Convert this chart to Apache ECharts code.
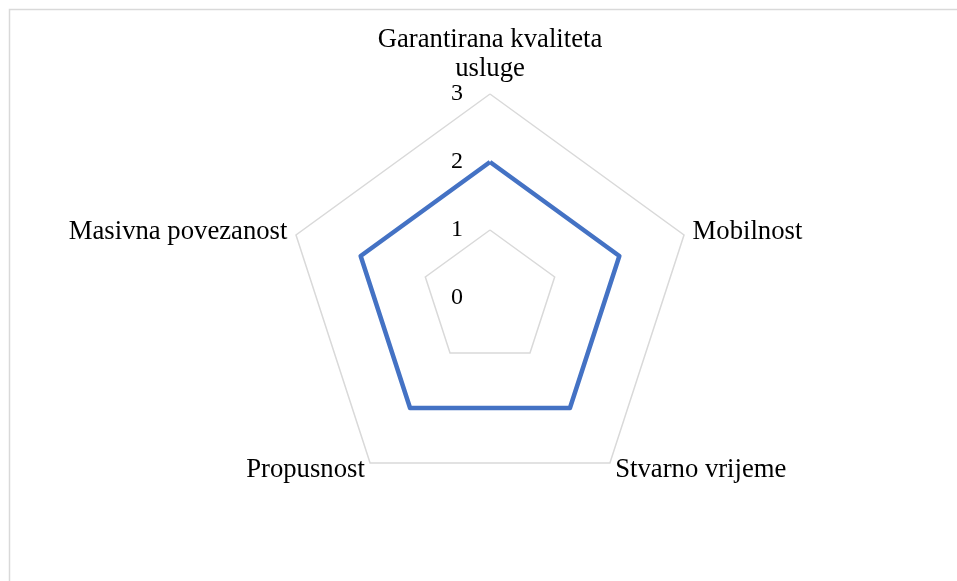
<!DOCTYPE html>
<html><head><meta charset="utf-8">
<script src="https://cdn.jsdelivr.net/npm/echarts@6/dist/echarts.min.js"></script>
<style>html,body{margin:0;padding:0;background:#fff}#c{width:957px;height:581px}</style>
</head><body><div id="c"></div>
<script>
// Categories listed in the chart's clockwise order, starting at the top
const categories = ['Garantirana kvaliteta\nusluge', 'Mobilnost', 'Stvarno vrijeme', 'Propusnost', 'Masivna povezanost'];
const values = [2, 2, 2, 2, 2];
const axisMin = 0, axisMax = 3, axisStep = 1;

// ECharts radar runs counter-clockwise: keep the first item on top, reverse the rest
const order = [0].concat(categories.map((_, i) => i).slice(1).reverse());
const cats = order.map(i => categories[i]);
const vals = order.map(i => values[i]);

const chart = echarts.init(document.getElementById('c'));
const font = '"Liberation Serif", "Times New Roman", serif';
chart.setOption({
  animation: false,
  graphic: [{type: 'rect', shape: {x: 9.5, y: 9.5, width: 1000, height: 1000}, style: {fill: 'none', stroke: '#d9d9d9', lineWidth: 1.5}, silent: true}],
  radar: {
    center: [490, 298],
    radius: 204,
    startAngle: 90,
    shape: 'polygon',
    splitNumber: (axisMax - axisMin) / axisStep,
    nameGap: 9,
    axisName: {
      color: '#000', fontFamily: font, fontSize: 26.7, lineHeight: 29,
      formatter: (name) => {
        const parts = name.split('\n');
        if (parts.length < 2) return name;
        return parts.map((s, i) => '{' + (i === parts.length - 1 ? 'b' : 'a') + '|' + s + '}').join('\n');
      },
      rich: {
        a: {fontFamily: font, fontSize: 26.7, lineHeight: 35, color: '#000'},
        b: {fontFamily: font, fontSize: 26.7, lineHeight: 23, color: '#000'}
      }
    },
    axisLine: {show: false},
    axisTick: {show: false},
    splitArea: {show: false},
    splitLine: {lineStyle: {color: '#d9d9d9', width: 1.5}},
    axisLabel: {show: false},
    indicator: cats.map((c, i) => i === 0
      ? {name: c, min: axisMin, max: axisMax, axisLabel: {show: true, color: '#000', fontFamily: font, fontSize: 24, margin: 27}}
      : {name: c, min: axisMin, max: axisMax})
  },
  series: [{
    type: 'radar',
    symbol: 'none',
    lineStyle: {color: '#4472C4', width: 4.5},
    data: [{value: vals}]
  }]
});
</script></body></html>
